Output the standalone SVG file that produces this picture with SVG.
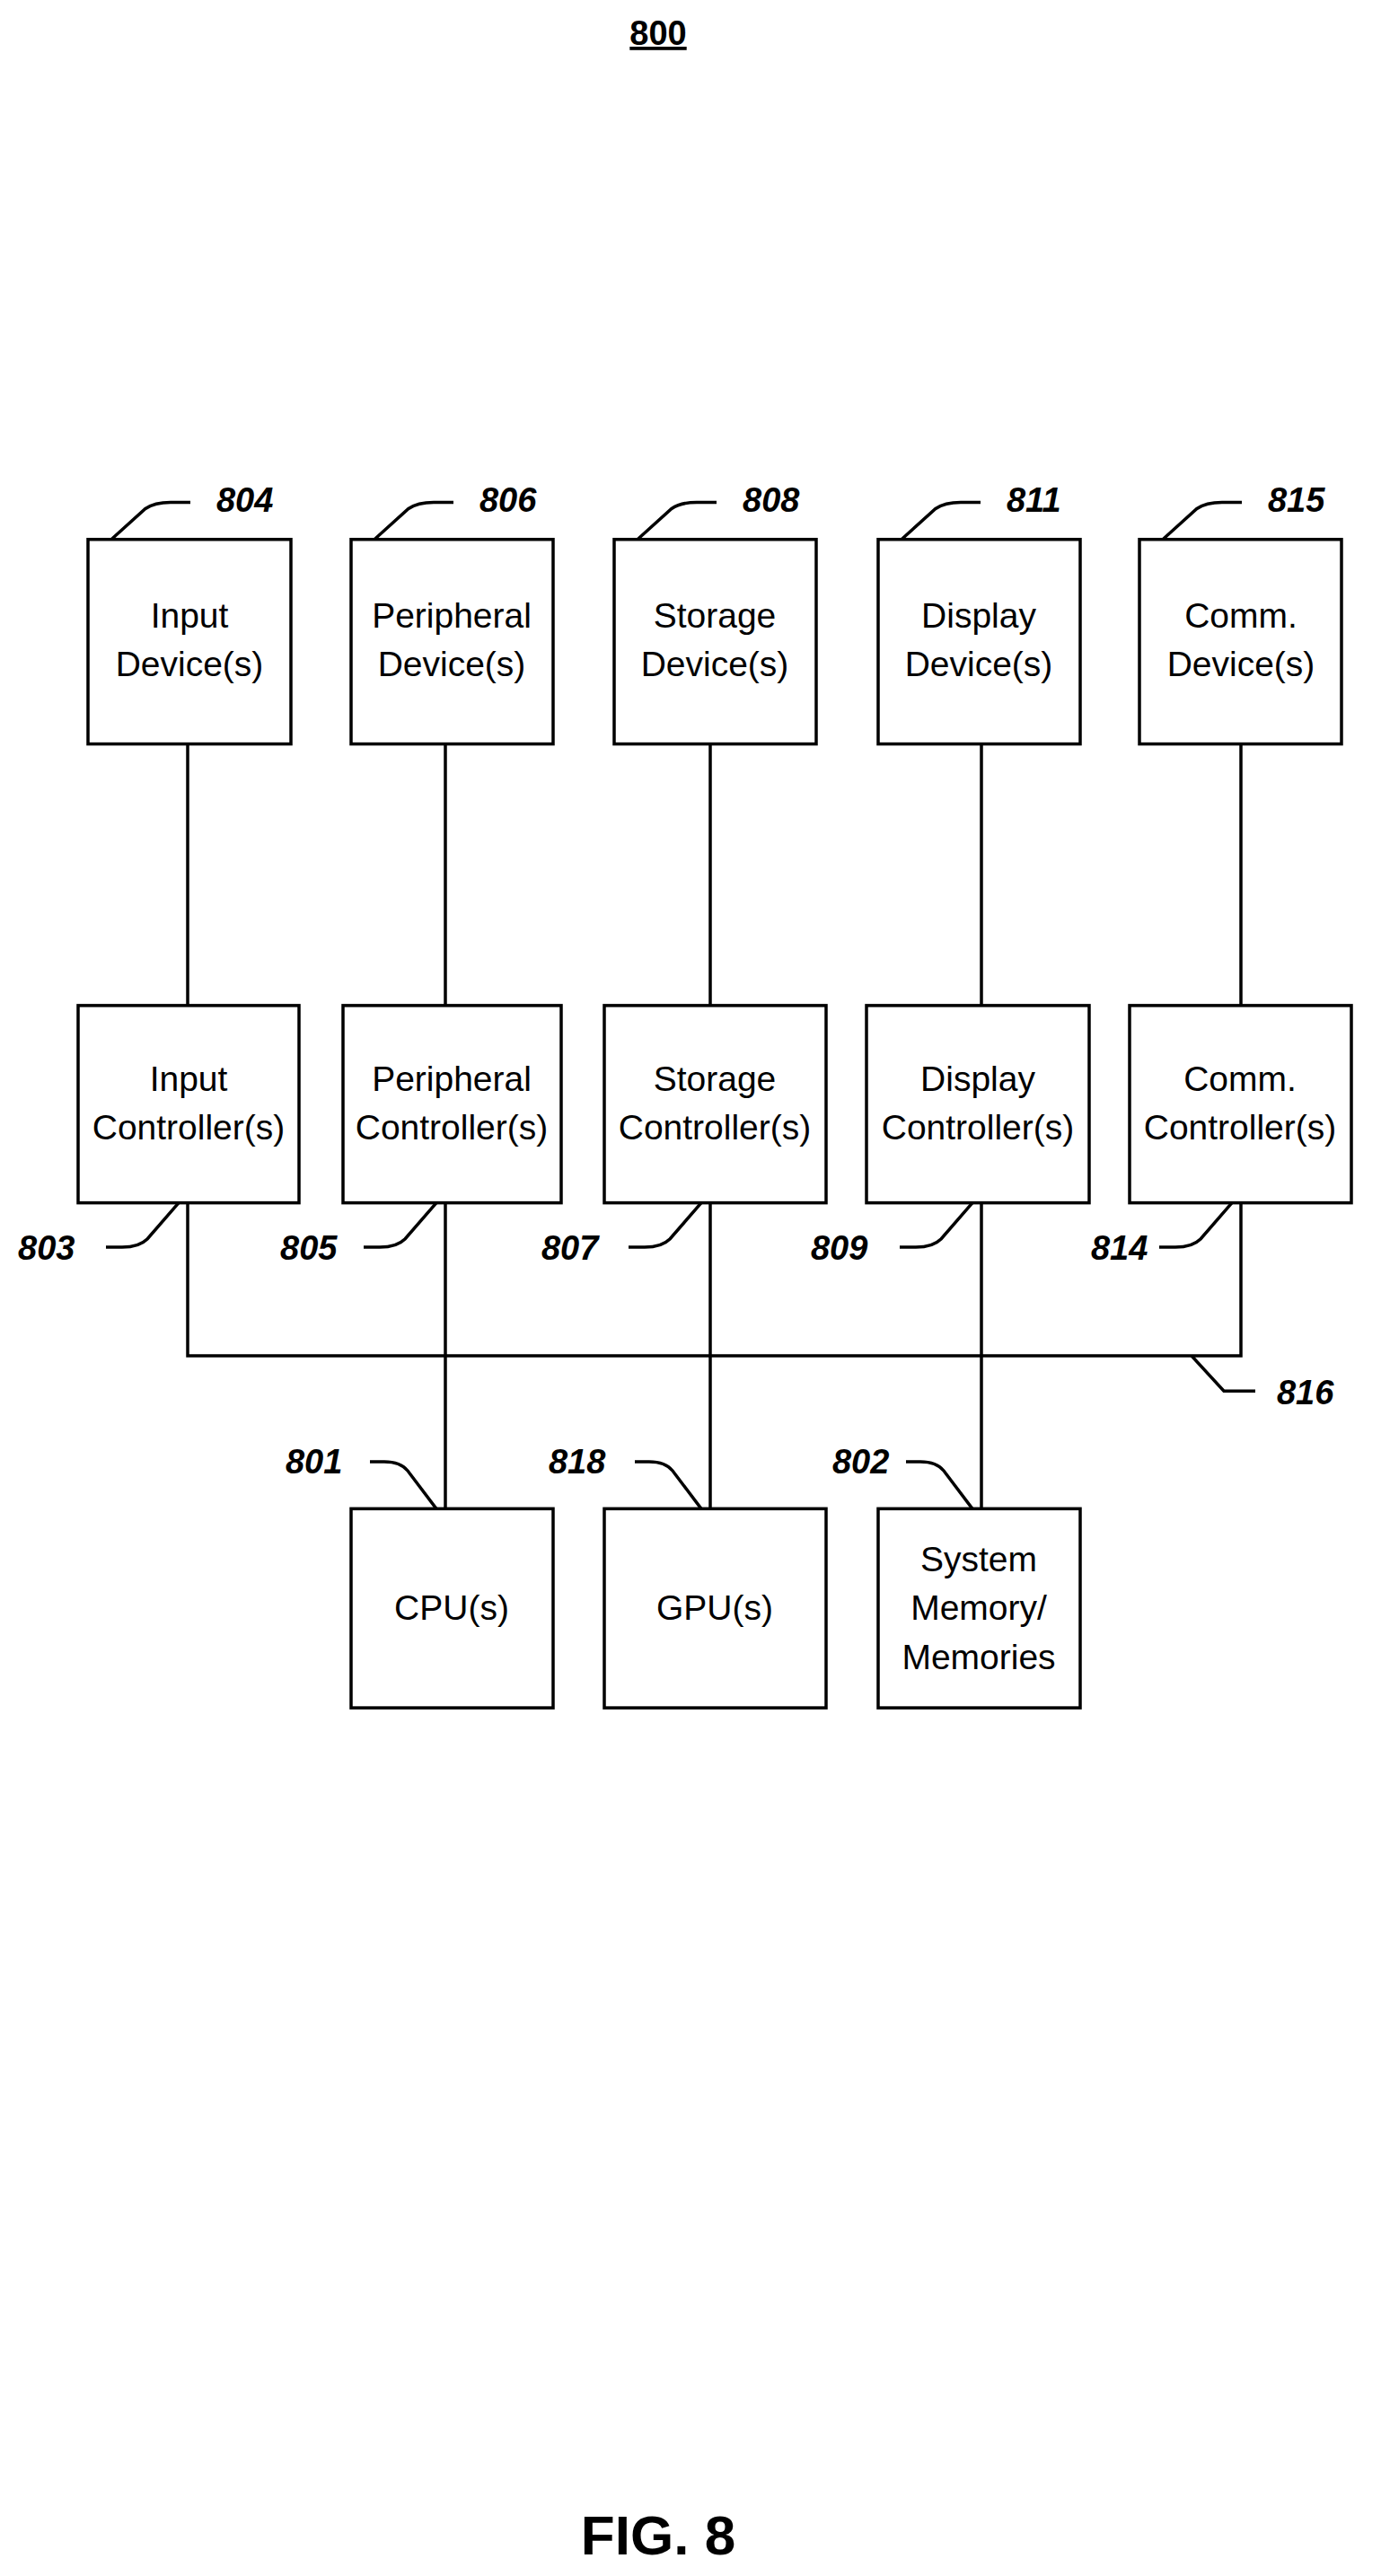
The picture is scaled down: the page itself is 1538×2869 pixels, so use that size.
<svg xmlns="http://www.w3.org/2000/svg" width="1538" height="2869" viewBox="0 0 1538 2869">
<style>
.b{fill:#fff;stroke:#000;stroke-width:3.5}
.t{font-family:"Liberation Sans",Arial,sans-serif;font-size:39px;text-anchor:middle;fill:#000}
.r{font-family:"Liberation Sans",Arial,sans-serif;font-size:38px;font-weight:bold;font-style:italic;fill:#000}
.l{fill:none;stroke:#000;stroke-width:3.5}
</style>
<rect width="1538" height="2869" fill="#fff"/>
<text x="733" y="50" class="r" style="font-style:normal;text-decoration:underline;text-anchor:middle">800</text>
<g transform="matrix(1,0,0,1.008,0,0)">
<g id="connectors">
<path class="l" d="M209 822V1111M496 822V1111M791 822V1111M1093 822V1111M1382 822V1111"/>
<path class="l" d="M209 1329V1498H1382V1329M496 1329V1667M791 1329V1667M1093 1329V1667"/>
</g>
<g id="leaders">
<path class="l" d="M124 596L162 562Q172 555 190 555H212"/>
<path class="l" d="M417 596L455 562Q465 555 483 555H505"/>
<path class="l" d="M710 596L748 562Q758 555 776 555H798"/>
<path class="l" d="M1004 596L1042 562Q1052 555 1070 555H1092"/>
<path class="l" d="M1295 596L1333 562Q1343 555 1361 555H1383"/>
<path class="l" d="M199 1329L164 1369Q155 1378 136 1378H118"/>
<path class="l" d="M486 1329L451 1369Q442 1378 423 1378H405"/>
<path class="l" d="M781 1329L746 1369Q737 1378 718 1378H700"/>
<path class="l" d="M1083 1329L1048 1369Q1039 1378 1020 1378H1002"/>
<path class="l" d="M1372 1329L1337 1369Q1328 1378 1309 1378H1291"/>
<path class="l" d="M1327 1498L1363 1537H1398"/>
<path class="l" d="M486 1667L454 1625Q446 1615 428 1615H412"/>
<path class="l" d="M781 1667L749 1625Q741 1615 723 1615H707"/>
<path class="l" d="M1083 1667L1051 1625Q1043 1615 1025 1615H1009"/>
</g>
<g class="r">
<text x="241" y="565">804</text><text x="534" y="565">806</text><text x="827" y="565">808</text><text x="1121" y="565">811</text><text x="1412" y="565">815</text>
<text x="20" y="1392">803</text><text x="312" y="1392">805</text><text x="603" y="1392">807</text><text x="903" y="1392">809</text><text x="1215" y="1392">814</text>
<text x="1422" y="1552">816</text>
<text x="318" y="1628">801</text><text x="611" y="1628">818</text><text x="927" y="1628">802</text>
</g>
<g id="n804"><rect class="b" x="98" y="596" width="226" height="226"/><text class="t" x="211" y="693">Input</text><text class="t" x="211" y="747">Device(s)</text></g>
<g id="n806"><rect class="b" x="391" y="596" width="225" height="226"/><text class="t" x="503" y="693">Peripheral</text><text class="t" x="503" y="747">Device(s)</text></g>
<g id="n808"><rect class="b" x="684" y="596" width="225" height="226"/><text class="t" x="796" y="693">Storage</text><text class="t" x="796" y="747">Device(s)</text></g>
<g id="n811"><rect class="b" x="978" y="596" width="225" height="226"/><text class="t" x="1090" y="693">Display</text><text class="t" x="1090" y="747">Device(s)</text></g>
<g id="n815"><rect class="b" x="1269" y="596" width="225" height="226"/><text class="t" x="1382" y="693">Comm.</text><text class="t" x="1382" y="747">Device(s)</text></g>
<g id="n803"><rect class="b" x="87" y="1111" width="246" height="218"/><text class="t" x="210" y="1205">Input</text><text class="t" x="210" y="1259">Controller(s)</text></g>
<g id="n805"><rect class="b" x="382" y="1111" width="243" height="218"/><text class="t" x="503" y="1205">Peripheral</text><text class="t" x="503" y="1259">Controller(s)</text></g>
<g id="n807"><rect class="b" x="673" y="1111" width="247" height="218"/><text class="t" x="796" y="1205">Storage</text><text class="t" x="796" y="1259">Controller(s)</text></g>
<g id="n809"><rect class="b" x="965" y="1111" width="248" height="218"/><text class="t" x="1089" y="1205">Display</text><text class="t" x="1089" y="1259">Controller(s)</text></g>
<g id="n814"><rect class="b" x="1258" y="1111" width="247" height="218"/><text class="t" x="1381" y="1205">Comm.</text><text class="t" x="1381" y="1259">Controller(s)</text></g>
<g id="n801"><rect class="b" x="391" y="1667" width="225" height="220"/><text class="t" x="503" y="1790">CPU(s)</text></g>
<g id="n818"><rect class="b" x="673" y="1667" width="247" height="220"/><text class="t" x="796" y="1790">GPU(s)</text></g>
<g id="n802"><rect class="b" x="978" y="1667" width="225" height="220"/><text class="t" x="1090" y="1736">System</text><text class="t" x="1090" y="1790">Memory/</text><text class="t" x="1090" y="1844">Memories</text></g>
</g>
<text x="733" y="2845" style="font-family:'Liberation Sans',Arial,sans-serif;font-size:62px;font-weight:bold;text-anchor:middle">FIG. 8</text>
</svg>
